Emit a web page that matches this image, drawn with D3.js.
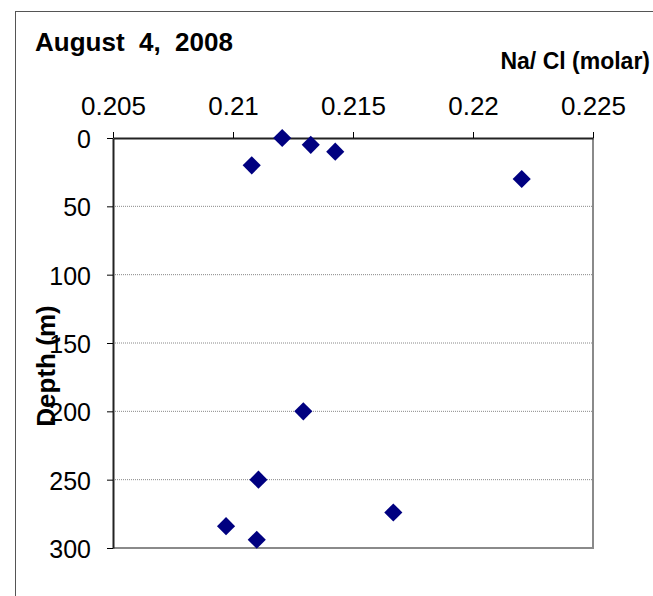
<!DOCTYPE html>
<html><head><meta charset="utf-8">
<script src="https://cdn.jsdelivr.net/npm/d3@7"></script>
<style>
html,body{margin:0;padding:0;background:#fff;}
svg{display:block;font-family:"Liberation Sans",Arial,sans-serif;}
</style></head>
<body>
<svg id="c" width="653" height="596"></svg>
<script>
const naCl = [0.21205, 0.21324, 0.21426, 0.21078, 0.22203, 0.21293, 0.21106, 0.21668, 0.20971, 0.21099];
const depth = [0, 5, 10, 20, 30, 200, 250, 274, 284, 294];
const xTicks = [0.205, 0.21, 0.215, 0.22, 0.225];
const xTickLabels = ["0.205", "0.21", "0.215", "0.22", "0.225"];
const yTicks = [0, 50, 100, 150, 200, 250, 300];
const title = "August  4,  2008";
const xTitle = "Na/ Cl (molar)";
const yTitle = "Depth (m)";

const svg = d3.select("#c");
const L = 113, R = 593, T = 138, B = 548;
const x = d3.scaleLinear().domain([0.205, 0.225]).range([L, R]);
const y = d3.scaleLinear().domain([0, 300]).range([T, B]);
const FF = "Liberation Sans, Arial, sans-serif";

// outer chart border
svg.append("rect").attr("x", 15.5).attr("y", 11.5).attr("width", 700).attr("height", 700)
  .attr("fill", "none").attr("stroke", "#555").attr("stroke-width", 1);

// gridlines
svg.append("g").selectAll("line").data(yTicks.filter(d => d > 0 && d < 300)).join("line")
  .attr("x1", L).attr("x2", R).attr("y1", d => y(d)).attr("y2", d => y(d))
  .attr("stroke", "#888").attr("stroke-width", 1).attr("stroke-dasharray", "1,1");

// right and bottom plot border (gray)
svg.append("path").attr("d", `M${L},${B}H${R}V${T}`).attr("fill", "none")
  .attr("stroke", "#8a8a8a").attr("stroke-width", 2);

// top axis
const xAxis = d3.axisTop(x).tickValues(xTicks).tickFormat((d, i) => xTickLabels[i]).tickSize(6).tickSizeOuter(0);
const gx = svg.append("g").attr("transform", `translate(0,${T})`).call(xAxis);
gx.select(".domain").attr("stroke", "#222").attr("stroke-width", 2);
gx.selectAll(".tick line").attr("stroke", "#000").attr("stroke-width", 1);
gx.selectAll(".tick text").attr("font-size", 26).attr("fill", "#000").attr("font-family", FF)
  .attr("y", 0).attr("dy", "-23");

// left axis
const yAxis = d3.axisLeft(y).tickValues(yTicks).tickSize(6).tickSizeOuter(0);
const gy = svg.append("g").attr("transform", `translate(${L},0)`).call(yAxis);
gy.select(".domain").attr("stroke", "#222").attr("stroke-width", 2);
gy.selectAll(".tick line").attr("stroke", "#000").attr("stroke-width", 1);
gy.selectAll(".tick text").attr("font-size", 25).attr("fill", "#000").attr("font-family", FF)
  .attr("x", -22).attr("dy", "0.38em");

// points
const sym = d3.symbol().type(d3.symbolDiamond2).size(210);
svg.append("g").selectAll("path").data(naCl.map((v, i) => [v, depth[i]])).join("path")
  .attr("transform", d => `translate(${x(d[0])},${y(d[1])})`)
  .attr("d", sym).attr("fill", "#000080");

// titles
svg.append("text").attr("x", 35).attr("y", 51).attr("font-size", 26).attr("font-weight", "bold")
  .attr("xml:space", "preserve").style("white-space", "pre").text(title);
svg.append("text").attr("x", 650).attr("y", 69).attr("text-anchor", "end").attr("font-size", 23).attr("font-weight", "bold").text(xTitle);
svg.append("text").attr("transform", "translate(55,366) rotate(-90)").attr("text-anchor", "middle")
  .attr("font-size", 26).attr("font-weight", "bold").text(yTitle);
</script>
</body></html>
